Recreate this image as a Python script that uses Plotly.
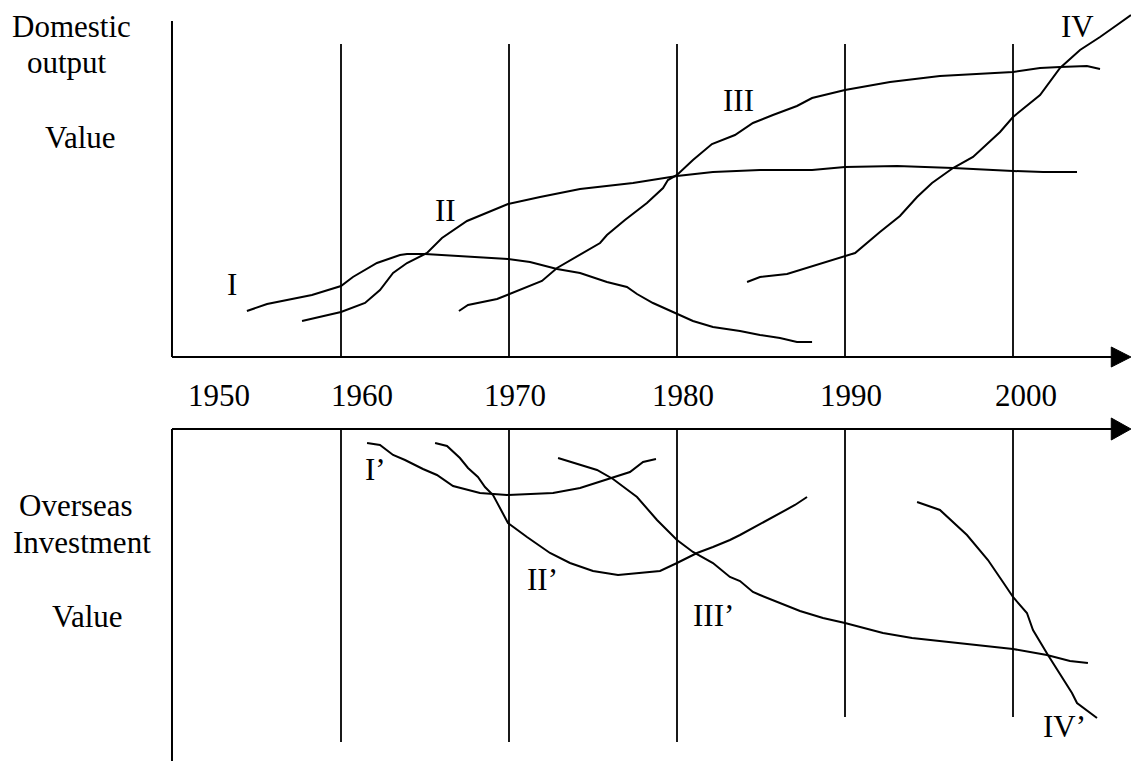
import plotly.graph_objects as go

# ---------------- data (years on x, arbitrary "value" units on y) ----------------
# Top panel: Domestic output value
I_year = [1954.40, 1955.60, 1958.27, 1960.00, 1960.71, 1962.14, 1963.51, 1963.93, 1965.00,
          1968.10, 1969.94, 1971.25, 1972.86, 1974.23, 1975.83, 1977.02, 1977.62, 1978.57,
          1979.76, 1980.95, 1982.14, 1983.75, 1984.94, 1986.13, 1987.14, 1988.04]
I_val = [46, 53, 62, 71, 80, 94, 102, 103, 103, 100, 98, 95, 88, 84, 75, 70, 63, 54,
         45, 36, 30, 26, 22, 19, 15, 15]

II_year = [1957.68, 1960.00, 1961.43, 1962.32, 1963.10, 1963.93, 1965.12, 1966.01, 1967.50,
           1969.94, 1971.85, 1974.23, 1977.38, 1980.00, 1982.14, 1984.94, 1988.04, 1990.00,
           1993.10, 1996.43, 2000.00, 2001.79, 2003.81]
II_val = [36, 45, 54, 67, 84, 94, 104, 119, 136, 153, 160, 168, 174, 181, 185, 187, 187, 190,
          191, 189, 186, 185, 185]

III_year = [1967.02, 1967.56, 1969.29, 1970.95, 1971.96, 1972.86, 1974.11, 1975.42, 1975.83,
            1976.90, 1978.21, 1979.17, 1979.46, 1980.00, 1980.95, 1982.08, 1983.45, 1984.52,
            1985.71, 1987.14, 1988.04, 1990.00, 1992.68, 1995.65, 2000.00, 2001.61, 2002.80,
            2004.40, 2005.18]
III_val = [46, 52, 58, 69, 76, 89, 101, 114, 122, 137, 154, 169, 177, 182, 197, 213, 222, 234,
           242, 251, 259, 267, 275, 281, 285, 289, 290, 291, 288]

IV_year = [1984.17, 1984.94, 1986.55, 1990.00, 1990.60, 1992.08, 1993.27, 1994.29, 1995.18,
           1996.43, 1997.62, 1999.23, 2000.00, 2001.61, 2002.80, 2003.99, 2005.18, 2006.19,
           2007.02]
IV_val = [75, 80, 83, 101, 104, 125, 141, 160, 174, 189, 200, 225, 240, 262, 289, 307, 320,
          332, 342]

# Bottom panel: Overseas investment value (measured downward from the axis)
Ip_year = [1961.55, 1962.32, 1963.10, 1963.81, 1964.88, 1965.71, 1966.67, 1968.27, 1969.88,
           1972.62, 1974.23, 1975.83, 1977.20, 1977.98, 1978.75]
Ip_val = [14, 16, 26, 31, 40, 46, 57, 64, 66, 64, 59, 50, 43, 33, 30]

IIp_year = [1965.60, 1966.31, 1967.08, 1967.56, 1968.15, 1968.57, 1969.05, 1969.94, 1971.07,
            1972.44, 1973.63, 1975.00, 1976.49, 1978.99, 1980.00, 1981.19, 1982.14, 1983.15,
            1983.75, 1984.94, 1986.13, 1987.02, 1987.74]
IIp_val = [14, 17, 29, 39, 48, 58, 66, 94, 108, 124, 134, 142, 146, 142, 134, 124, 118, 111,
           106, 95, 84, 76, 68]

IIIp_year = [1972.92, 1975.24, 1976.19, 1977.62, 1978.81, 1980.00, 1980.95, 1982.14, 1983.15,
             1983.75, 1984.52, 1984.94, 1987.32, 1988.69, 1990.00, 1992.26, 1993.99, 1997.62,
             2000.00, 2002.02, 2003.39, 2004.46]
IIIp_val = [29, 41, 50, 68, 91, 111, 123, 134, 148, 152, 163, 166, 182, 189, 194, 204, 209,
            216, 220, 226, 232, 234]

IVp_year = [1994.29, 1995.65, 1997.26, 1998.51, 1999.40, 2000.00, 2000.83, 2001.19, 2002.08,
            2003.51, 2003.81, 2005.00]
IVp_val = [73, 81, 106, 131, 153, 168, 184, 201, 226, 264, 274, 289]

decades = [1960, 1970, 1980, 1990, 2000]
year_labels = ["1950", "1960", "1970", "1980", "1990", "2000"]
top_names = ["I", "II", "III", "IV"]
bottom_names = ["I\u2019", "II\u2019", "III\u2019", "IV\u2019"]

# ---------------- layout geometry ----------------
W, H = 1131, 761
FONT = "Liberation Serif, Times New Roman, serif"
BLACK = "#000000"


def px(x):
    return x / W


def py(y):
    return 1 - y / H


fig = go.Figure()

top_series = [(I_year, I_val), (II_year, II_val), (III_year, III_val), (IV_year, IV_val)]
bot_series = [(Ip_year, Ip_val), (IIp_year, IIp_val), (IIIp_year, IIIp_val), (IVp_year, IVp_val)]

for (xs, ys), name in zip(top_series, top_names):
    fig.add_trace(go.Scatter(x=xs, y=ys, mode="lines", name=name, xaxis="x", yaxis="y",
                             line=dict(color=BLACK, width=2), hoverinfo="skip"))
for (xs, ys), name in zip(bot_series, bottom_names):
    fig.add_trace(go.Scatter(x=xs, y=ys, mode="lines", name=name, xaxis="x", yaxis="y2",
                             line=dict(color=BLACK, width=2), hoverinfo="skip"))

shapes = []
AX = dict(color=BLACK, width=2)
# top axes
shapes.append(dict(type="line", xref="x", yref="y", x0=1949.94, x1=2005.9, y0=0, y1=0, line=AX))
shapes.append(dict(type="line", xref="x", yref="y", x0=1949.94, x1=1949.94, y0=0, y1=336, line=AX))
shapes.append(dict(type="path", xref="x", yref="y",
                   path="M 2005.85,10 L 2007.02,0 L 2005.85,-10 Z",
                   fillcolor=BLACK, line=dict(color=BLACK, width=1)))
# bottom axes
shapes.append(dict(type="line", xref="x", yref="y2", x0=1949.94, x1=2005.9, y0=0, y1=0, line=AX))
shapes.append(dict(type="line", xref="x", yref="y2", x0=1949.94, x1=1949.94, y0=0, y1=335, line=AX))
shapes.append(dict(type="path", xref="x", yref="y2",
                   path="M 2005.85,-11 L 2007.02,0 L 2005.85,11 Z",
                   fillcolor=BLACK, line=dict(color=BLACK, width=1)))
# decade lines
for d in decades:
    shapes.append(dict(type="line", xref="x", yref="y", x0=d, x1=d, y0=0, y1=313,
                       line=dict(color=BLACK, width=1.8)))
    shapes.append(dict(type="line", xref="x", yref="y2", x0=d, x1=d, y0=0,
                       y1=313 if d < 1990 else 288, line=dict(color=BLACK, width=1.8)))

annotations = []


def txt(s, x, y):
    annotations.append(dict(text=s, x=px(x), y=py(y), xref="paper", yref="paper",
                            showarrow=False, xanchor="center", yanchor="middle",
                            font=dict(family=FONT, size=31, color=BLACK)))


txt("Domestic", 71.5, 26.5)
txt("output", 67, 62.5)
txt("Value", 80, 137.5)
txt("Overseas", 75.5, 505.5)
txt("Investment", 81.5, 542.5)
txt("Value", 87.5, 616.5)

year_label_x = [219, 362, 515, 683, 851, 1026]
for s, x in zip(year_labels, year_label_x):
    txt(s, x, 395.5)

for s, (x, y) in zip(top_names, [(232, 284.5), (445, 210.5), (738, 101), (1077, 26.5)]):
    txt(s, x, y)
for s, (x, y) in zip(bottom_names, [(375, 469.5), (542, 579.5), (713, 615.5), (1064, 726.5)]):
    txt(s, x, y)

x_left = 1960 - 341 / 16.8
x_right = 1960 + (W - 341) / 16.8

fig.update_layout(
    width=W, height=H,
    margin=dict(l=0, r=0, t=0, b=0),
    paper_bgcolor="white", plot_bgcolor="white",
    showlegend=False,
    xaxis=dict(range=[x_left, x_right], domain=[0, 1], visible=False, fixedrange=True),
    yaxis=dict(range=[-(H - 357), 357], domain=[0, 1], visible=False, fixedrange=True),
    yaxis2=dict(range=[H - 429, -429], domain=[0, 1], overlaying="y", visible=False,
                fixedrange=True),
    shapes=shapes,
    annotations=annotations,
)

fig.write_html("out.html", config={"displayModeBar": False},
               post_script="document.body.style.margin='0';")
